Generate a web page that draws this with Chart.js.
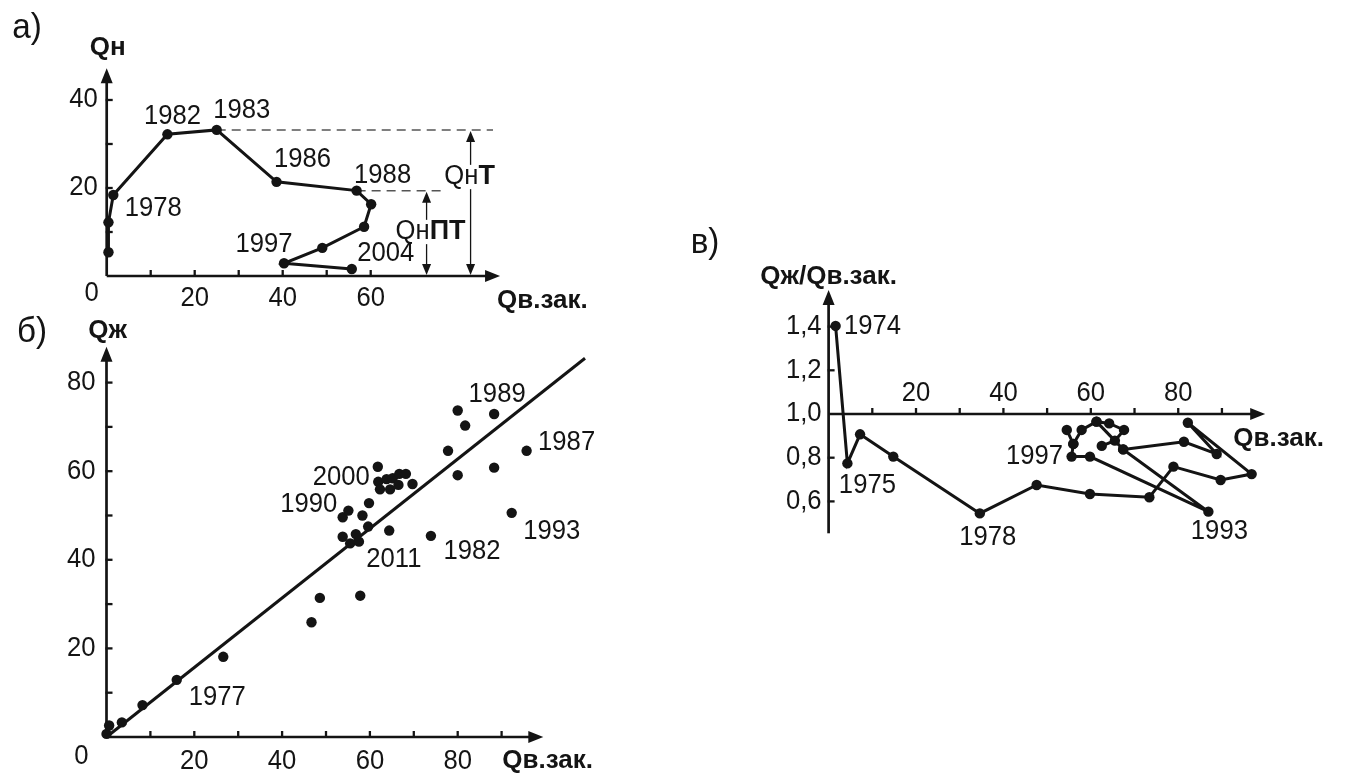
<!DOCTYPE html>
<html><head><meta charset="utf-8">
<script src="https://cdn.jsdelivr.net/npm/chart.js@4.4.1/dist/chart.umd.min.js"></script>
<style>
html,body{margin:0;padding:0;background:#fff;width:1345px;height:776px;overflow:hidden}
canvas{position:absolute;left:0;top:0}
</style></head><body>
<canvas id="ca" width="1345" height="776"></canvas>
<canvas id="cb" width="1345" height="776"></canvas>
<canvas id="cc" width="1345" height="776"></canvas>
<script>
// ---------- DATA ----------
// Panel а) : Qн vs Qв.зак.
const aX = [0.4, 0.4, 1.5, 13.8, 25.0, 38.6, 56.8, 60.1, 58.5, 49.0, 40.3, 55.7];
const aY = [5.4, 12.2, 18.4, 32.2, 33.2, 21.4, 19.4, 16.3, 11.2, 6.4, 2.9, 1.6];
const aYears = [null, null, '1978', '1982', '1983', '1986', '1988', null, null, null, '1997', '2004'];
const aXTickLabels = [20, 40, 60];
const aXTickMarks = [10, 20, 30, 40, 50, 60];
const aYTickLabels = [20, 40];
const aYTickMarks = [10, 20, 30, 40];
const aQnT = [82.7, 33.2];    // x of arrow, top value (1983 level)
const aQnPT = [72.7, 19.4];   // x of arrow, top value (1988 level)
const aDashEnds = [87.8, 76.4];

// Panel б) : Qж vs Qв.зак.
const bX = [0.0, 0.6, 3.5, 8.2, 16.0, 26.6, 46.7, 48.6, 57.8,
  53.8, 55.5, 56.8, 57.5, 59.6, 64.4,
  53.8, 55.1, 58.3, 59.8,
  61.8, 61.9, 63.8, 65.2, 66.7, 68.2, 62.3, 64.6, 66.5, 69.7,
  73.9, 77.8, 80.0, 81.7, 80.0, 88.3, 88.3, 92.3, 95.7];
const bY = [0.7, 2.6, 3.3, 7.2, 12.9, 18.1, 25.9, 31.4, 31.9,
  45.2, 43.7, 45.8, 44.1, 47.5, 46.6,
  49.6, 51.1, 50.0, 52.8,
  61.0, 57.6, 58.2, 58.4, 59.4, 59.4, 55.9, 55.9, 56.9, 57.1,
  45.4, 64.6, 73.7, 70.3, 59.1, 72.9, 60.8, 50.6, 64.6];
const bYearsAt = {5: '1977', 15: '1990', 20: '2000', 12: '2011', 29: '1982', 34: '1989', 37: '1987', 36: '1993'};
const bFitX = [0, 109];
const bFitY = [0, 85.5];
const bXTickLabels = [20, 40, 60, 80];
const bXTickMarks = [10, 20, 30, 40, 50, 60, 70, 80, 90];
const bYTickLabels = [20, 40, 60, 80];
const bYTickMarks = [10, 20, 30, 40, 50, 60, 70, 80];

// Panel в) : Qж/Qв.зак. vs Qв.зак.
const cX = [1.6, 4.3, 7.2, 14.8, 34.6, 47.6, 59.8, 73.4, 78.9, 89.7, 96.8, 82.2, 88.8, 81.3, 67.4, 86.9, 59.8, 55.6, 56.0, 54.5];
const cY = [1.403, 0.774, 0.907, 0.805, 0.545, 0.675, 0.634, 0.619, 0.759, 0.698, 0.725, 0.960, 0.817, 0.873, 0.838, 0.553, 0.805, 0.805, 0.863, 0.927];
const cYears = {0: '1974', 1: '1975', 4: '1978', 15: '1993', 17: '1997'};
const cLoopX = [56.0, 57.9, 61.3, 64.2, 67.6, 65.5, 62.5];
const cLoopY = [0.863, 0.927, 0.965, 0.957, 0.927, 0.878, 0.854];
const cLinkX = [61.3, 67.4];
const cLinkY = [0.965, 0.838];
const cXTickLabels = [20, 40, 60, 80];
const cXTickMarks = [10, 20, 30, 40, 50, 60, 70, 80, 90];
const cYTickLabels = ['0,6', '0,8', '1,0', '1,2', '1,4'];
const cYTickValues = [0.6, 0.8, 1.0, 1.2, 1.4];
const cYTickMarks = [0.6, 0.8, 1.2, 1.4];

// ---------- STYLE / LAYOUT ----------
const FONT = '"Liberation Sans", Arial, Helvetica, sans-serif';
const INK = '#141414';
const NUM = 27;      // numeric labels
const SX = 0.95;     // slight horizontal condensing of regular text
const pts = (xs, ys) => xs.map((x, i) => ({x: x, y: ys[i]}));

function fnt(size, bold) { return (bold ? 'bold ' : '') + size + 'px ' + FONT; }
function txt(ctx, s, x, y, size, bold, align, sx) {
  const k = sx || (bold ? 1 : SX);
  ctx.save();
  ctx.font = fnt(size, bold);
  ctx.textAlign = align || 'center';
  ctx.textBaseline = 'middle';
  ctx.fillStyle = INK;
  ctx.translate(x, y); ctx.scale(k, 1);
  ctx.fillText(s, 0, 0);
  ctx.restore();
}
function tw(ctx, s, size, bold) { ctx.font = fnt(size, bold); return ctx.measureText(s).width * (bold ? 1 : SX); }
function seg(ctx, x1, y1, x2, y2, w, dash, col) {
  ctx.save();
  ctx.strokeStyle = col || INK; ctx.lineWidth = w;
  ctx.setLineDash(dash || []);
  ctx.beginPath(); ctx.moveTo(x1, y1); ctx.lineTo(x2, y2); ctx.stroke();
  ctx.restore();
}
function head(ctx, x, y, dir, len, hw) {
  ctx.save(); ctx.fillStyle = INK; ctx.beginPath();
  if (dir === 'up') { ctx.moveTo(x, y); ctx.lineTo(x - hw, y + len); ctx.lineTo(x + hw, y + len); }
  if (dir === 'down') { ctx.moveTo(x, y); ctx.lineTo(x - hw, y - len); ctx.lineTo(x + hw, y - len); }
  if (dir === 'right') { ctx.moveTo(x, y); ctx.lineTo(x - len, y - hw); ctx.lineTo(x - len, y + hw); }
  ctx.closePath(); ctx.fill(); ctx.restore();
}
function drawAxes(chart, o) {
  const ctx = chart.ctx, xs = chart.scales.x, ys = chart.scales.y, ca = chart.chartArea;
  const ox = xs.getPixelForValue(o.yAxisAt), oy = ys.getPixelForValue(o.xAxisAt);
  const yb = ys.getPixelForValue(o.yFrom);
  seg(ctx, ox, yb, ox, ca.top + 12, 2.7);
  head(ctx, ox, ca.top, 'up', 15, 6);
  seg(ctx, ox, oy, ca.right - 12, oy, 2.7);
  head(ctx, ca.right, oy, 'right', 15, 6);
  o.xMarks.forEach(v => { const p = xs.getPixelForValue(v); seg(ctx, p, oy + 1, p, oy - 6, 2.3); });
  o.yMarks.forEach(v => { const p = ys.getPixelForValue(v); seg(ctx, ox - 1, p, ox + 6, p, 2.3); });
  return {ox, oy};
}
function yearLabels(chart, dsIndex, map, offsets) {
  const meta = chart.getDatasetMeta(dsIndex);
  Object.keys(map).forEach(k => {
    const el = meta.data[+k]; const off = offsets[map[k]] || [0, -20];
    txt(chart.ctx, map[k], el.x + off[0], el.y + off[1], NUM, false);
  });
}
function baseOpts(pad, xmin, xmax, ymin, ymax) {
  return {
    responsive: false, animation: false, devicePixelRatio: 1, events: [],
    layout: {padding: pad},
    plugins: {legend: {display: false}, tooltip: {enabled: false}, title: {display: false}},
    scales: {
      x: {type: 'linear', display: false, min: xmin, max: xmax},
      y: {type: 'linear', display: false, min: ymin, max: ymax}
    }
  };
}
const lineDs = (data, extra) => Object.assign({
  data: data, showLine: true, borderColor: INK, borderWidth: 3, pointRadius: 5.2,
  pointBackgroundColor: INK, pointBorderWidth: 0, clip: false, tension: 0
}, extra || {});

// ---------- PANEL а) ----------
const aOffsets = {'1978': [40, 14], '1982': [5, -18], '1983': [25, -19], '1986': [26, -22], '1988': [26, -15], '1997': [-20, -19], '2004': [34, -15]};
function mixedLabel(ctx, parts, cx, cy, size) {
  let w = 0;
  parts.forEach(p => { w += tw(ctx, p[0], size, p[1]); });
  ctx.save(); ctx.fillStyle = '#fff'; ctx.fillRect(cx - w / 2 - 2, cy - size * 0.45, w + 4, size * 0.9); ctx.restore();
  let x = cx - w / 2;
  parts.forEach(p => { txt(ctx, p[0], x, cy, size, p[1], 'left'); x += tw(ctx, p[0], size, p[1]); });
}
const plugA = {
  id: 'decorA',
  beforeDatasetsDraw(chart) {
    const ctx = chart.ctx, xs = chart.scales.x, ys = chart.scales.y;
    const {ox, oy} = drawAxes(chart, {yAxisAt: 0, xAxisAt: 0, yFrom: 0, xMarks: aXTickMarks, yMarks: aYTickMarks});
    // dashed reference levels
    seg(ctx, xs.getPixelForValue(aX[4]), ys.getPixelForValue(aQnT[1]), xs.getPixelForValue(aDashEnds[0]), ys.getPixelForValue(aQnT[1]), 1.5, [9, 6], '#555');
    seg(ctx, xs.getPixelForValue(aX[6]), ys.getPixelForValue(aQnPT[1]), xs.getPixelForValue(aDashEnds[1]), ys.getPixelForValue(aQnPT[1]), 1.5, [9, 6], '#555');
    // double arrows
    [aQnT, aQnPT].forEach(a => {
      const x = xs.getPixelForValue(a[0]), yt = ys.getPixelForValue(a[1]);
      seg(ctx, x, yt + 8, x, oy - 8, 1.3);
      head(ctx, x, yt + 1, 'up', 11, 4.5);
      head(ctx, x, oy - 1, 'down', 11, 4.5);
    });
    mixedLabel(ctx, [['Qн', false], ['Т', true]], xs.getPixelForValue(aQnT[0]) - 1, 177, 27);
    mixedLabel(ctx, [['Qн', false], ['ПТ', true]], xs.getPixelForValue(aQnPT[0]) + 4, 232, 27);
    // tick labels
    aXTickLabels.forEach(v => txt(ctx, String(v), xs.getPixelForValue(v), oy + 23, NUM, false));
    aYTickLabels.forEach(v => txt(ctx, String(v), ox - 9, ys.getPixelForValue(v), NUM, false, 'right'));
    txt(ctx, '0', ox - 15, oy + 18, NUM, false);
    // titles
    txt(ctx, 'Qн', ox + 1, chart.chartArea.top - 20, 26, true);
    txt(ctx, 'Qв.зак.', chart.chartArea.right - 3, oy + 25, 26, true, 'left');
    txt(ctx, 'а)', 27, 28, 35, false);
  },
  afterDatasetsDraw(chart) {
    const map = {}; aYears.forEach((y, i) => { if (y) map[i] = y; });
    yearLabels(chart, 0, map, aOffsets);
  }
};
new Chart(document.getElementById('ca'), {
  type: 'scatter',
  data: {datasets: [lineDs(pts(aX, aY))]},
  options: baseOpts({left: 106.7, top: 68.3, right: 1345 - 500.06, bottom: 500}, 0, 89.4, 0, 47.2),
  plugins: [plugA]
});

// ---------- PANEL б) ----------
const bOffsets = {'1977': [-6, 41], '1990': [-34, -13], '2000': [-37, -4], '2011': [35, 18], '1982': [41, 16], '1989': [3, -19], '1987': [40, -8], '1993': [40, 19]};
const plugB = {
  id: 'decorB',
  beforeDatasetsDraw(chart) {
    const ctx = chart.ctx, xs = chart.scales.x, ys = chart.scales.y;
    const {ox, oy} = drawAxes(chart, {yAxisAt: 0, xAxisAt: 0, yFrom: 0, xMarks: bXTickMarks, yMarks: bYTickMarks});
    bXTickLabels.forEach(v => txt(ctx, String(v), xs.getPixelForValue(v), oy + 25, NUM, false));
    bYTickLabels.forEach(v => txt(ctx, String(v), ox - 11, ys.getPixelForValue(v), NUM, false, 'right'));
    txt(ctx, '0', ox - 25, oy + 20, NUM, false);
    txt(ctx, 'Qж', ox + 1, chart.chartArea.top - 16, 26, true);
    txt(ctx, 'Qв.зак.', chart.chartArea.right - 41, oy + 24, 26, true, 'left');
    txt(ctx, 'б)', 32, 332, 35, false);
  },
  afterDatasetsDraw(chart) { yearLabels(chart, 1, bYearsAt, bOffsets); }
};
new Chart(document.getElementById('cb'), {
  type: 'scatter',
  data: {datasets: [
    lineDs(pts(bFitX, bFitY), {pointRadius: 0}),
    {data: pts(bX, bY), showLine: false, pointRadius: 5.2, pointBackgroundColor: INK, pointBorderWidth: 0, clip: false}
  ]},
  options: baseOpts({left: 106.5, top: 346.7, right: 1345 - 543.3, bottom: 776 - 737}, 0, 99.5, 0, 88.1),
  plugins: [plugB]
});

// ---------- PANEL в) ----------
const cOffsets = {'1974': [37, 1], '1975': [20, 22], '1978': [8, 24], '1993': [11, 20], '1997': [-37, 0]};
const plugC = {
  id: 'decorC',
  beforeDatasetsDraw(chart) {
    const ctx = chart.ctx, xs = chart.scales.x, ys = chart.scales.y;
    const {ox, oy} = drawAxes(chart, {yAxisAt: 0, xAxisAt: 1.0, yFrom: 0.454, xMarks: cXTickMarks, yMarks: cYTickMarks});
    cXTickLabels.forEach(v => txt(ctx, String(v), xs.getPixelForValue(v), oy - 20, NUM, false));
    cYTickValues.forEach((v, i) => txt(ctx, cYTickLabels[i], ox - 7, ys.getPixelForValue(v), NUM, false, 'right'));
    txt(ctx, 'Qж/Qв.зак.', ox, chart.chartArea.top - 13, 26, true);
    txt(ctx, 'Qв.зак.', chart.chartArea.right - 32, oy + 25, 26, true, 'left');
    txt(ctx, 'в)', 705, 243, 35, false);
  },
  afterDatasetsDraw(chart) { yearLabels(chart, 0, cYears, cOffsets); }
};
new Chart(document.getElementById('cc'), {
  type: 'scatter',
  data: {datasets: [
    lineDs(pts(cX, cY)),
    lineDs(pts(cLoopX, cLoopY)),
    lineDs(pts(cLinkX, cLinkY))
  ]},
  options: baseOpts({left: 828.6, top: 290.1, right: 1345 - 1265.2, bottom: 776 - 533.3}, 0, 99.9, 0.454, 1.567),
  plugins: [plugC]
});
</script>
</body></html>
